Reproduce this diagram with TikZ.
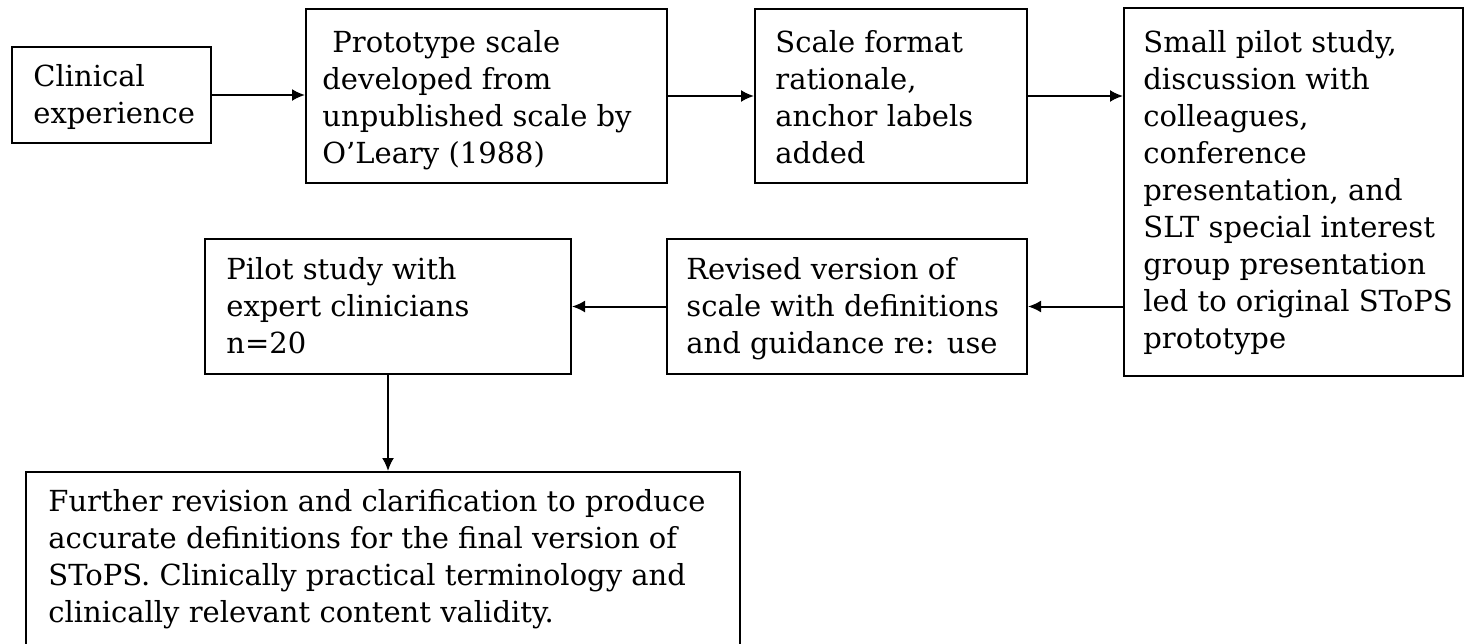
\documentclass[tikz,border=0pt]{standalone}
\usepackage{fontspec}
\setmainfont{DejaVu Serif}
\usetikzlibrary{arrows.meta,calc}
\begin{document}
\begin{tikzpicture}[x=0.5pt,y=-0.5pt,
  box/.style={draw, line width=1pt, rectangle, inner sep=0pt},
  txt/.style={align=left, inner sep=0pt, anchor=north west, font=\fontsize{14.5}{18.5}\selectfont},
  arr/.style={line width=1pt, -{Latex[length=6.5pt,width=6pt]}}]
\useasboundingbox (0,0) rectangle (1465,643);
\begin{scope}
\clip (0,0) rectangle (1465,643);
\node[box, minimum width=99.5pt, minimum height=48pt] (b1) at (111.5,95) {};
\node[box, minimum width=180.5pt, minimum height=87pt] (b2) at (486.5,96) {};
\node[box, minimum width=136pt, minimum height=87pt] (b3) at (891,96) {};
\node[box, minimum width=169.5pt, minimum height=184pt] (b4) at (1293.5,192) {};
\node[box, minimum width=180pt, minimum height=67.5pt] (b5) at (847,306.5) {};
\node[box, minimum width=183pt, minimum height=67.5pt] (b6) at (388,306.5) {};
\node[box, minimum width=357pt, minimum height=94pt] (b7) at (383,566) {};

\node[txt] (t1) at (33,64) {Clinical\\experience};
\node[txt] (t2) at (322,30) {\hspace*{5pt}Prototype scale\\developed from\\unpublished scale by\\O’Leary (1988)};
\node[txt] (t3) at (775,30) {Scale format\\rationale,\\anchor labels\\added};
\node[txt] (t4) at (1143,30) {Small pilot study,\\discussion with\\colleagues,\\conference\\presentation, and\\SLT special interest\\group presentation\\led to original SToPS\\prototype};
\node[txt] (t5) at (686,257) {Revised version of\\scale with definitions\\and guidance re: use};
\node[txt] (t6) at (226,257) {Pilot study with\\expert clinicians\\n=20};
\node[txt] (t7) at (48,489) {Further revision and clarification to produce\\accurate definitions for the final version of\\SToPS. Clinically practical terminology and\\clinically relevant content validity.};

\draw[arr] (b1.east) -- (b2.west |- b1.east);
\draw[arr] (b2.east) -- (b3.west);
\draw[arr] (b3.east) -- (b4.west |- b3.east);
\draw[arr] (b4.west |- b5.east) -- (b5.east);
\draw[arr] (b5.west) -- (b6.east);
\draw[arr] (b6.south) -- (b6.south |- b7.north);
\end{scope}
\end{tikzpicture}
\end{document}
